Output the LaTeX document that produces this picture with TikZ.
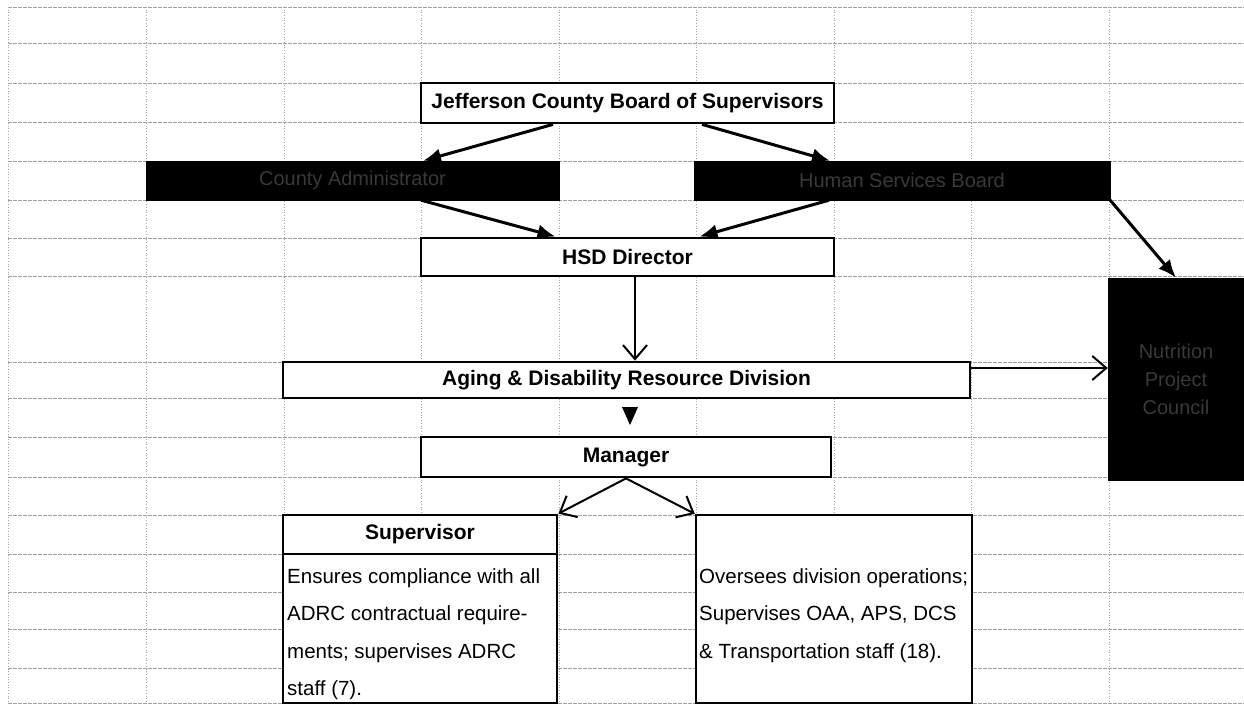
\documentclass[tikz,border=0pt]{standalone}
\usepackage{fontspec}
\setmainfont{Liberation Sans}
\usetikzlibrary{arrows.meta,
                positioning}
\tikzset{org-box/.style =
   {rectangle,
    draw,
    line width=2.8pt,
    fill=white,
    inner sep=0pt,
    font=\fontsize{21}{25}\selectfont\bfseries,
    text centered}}
\tikzset{dark-box/.style =
   {rectangle,
    draw,
    fill=black,
    inner sep=0pt,
    text=gray!45!black,
    font=\fontsize{20}{28}\selectfont,
    align=center}}
\tikzset{cell-line/.style =
   {anchor=base west,
    inner sep=0pt,
    font=\fontsize{20.5}{25}\selectfont}}
\tikzset{arrow/.style = {draw, line width=3pt, -{Latex[length=18pt,width=15pt]}}}
\tikzset{thin-arrow/.style = {draw, line width=2pt, -{Straight Barb[length=14pt,width=24pt]}}}
\tikzset{grid-row/.style = {gray!75, line width=0.7pt, dash pattern=on 4pt off 1pt}}
\tikzset{grid-col/.style = {gray!70, line width=0.7pt, dotted}}

\begin{document}
\begin{tikzpicture}[x=1pt, y=-1pt]
        \useasboundingbox (0,0) rectangle (1244,706);

        % spreadsheet cells
        \foreach \gy in {7,43,83,122,161,200,238,276,362,398,437,477,515,554,592,629,668,703}
            \draw [grid-row] (8,\gy) -- (1244,\gy);
        \foreach \gx in {8,146,284,421,559,696,834,971,1109}
            \draw [grid-col] (\gx,7) -- (\gx,703);

        \node [org-box,
               minimum width=413pt,
               minimum height=40pt] (board) at (627.5,103)
               {Jefferson County Board of Supervisors};

        \node [dark-box,
               minimum width=413pt,
               minimum height=39pt] (admin) at (352.5,180.5)
               {County Administrator};

        \node [dark-box,
               minimum width=416pt,
               minimum height=39pt] (hsb) at (902,180.5)
               {Human Services Board};

        \node [org-box,
               minimum width=413pt,
               minimum height=38pt] (hsd) at (627.5,257)
               {HSD Director};

        \node [org-box,
               minimum width=687pt,
               minimum height=36pt] (adrd) at (626.5,380)
               {Aging \& Disability Resource Division};

        \node [org-box,
               minimum width=410pt,
               minimum height=40pt] (mgr) at (626,457)
               {Manager};

        \node [dark-box,
               minimum width=136pt,
               minimum height=202pt] (nutr) at (1176,379)
               {Nutrition\\Project\\Council};

        % the two staff boxes
        \node [org-box,
               minimum width=274pt,
               minimum height=39pt] (suphead) at (420,534.5)
               {Supervisor};
        \node [org-box,
               line width=2.4pt,
               minimum width=274pt,
               minimum height=149pt] (supbody) at (420,628.5) {};
        \node [org-box,
               line width=2.4pt,
               minimum width=276pt,
               minimum height=188pt] (ops) at (834,609) {};

        \node [cell-line] (sup1) at (287,583) {Ensures compliance with all};
        \node [cell-line] (sup2) at (287,620) {ADRC contractual require-};
        \node [cell-line] (sup3) at (287,658) {ments; supervises ADRC};
        \node [cell-line] (sup4) at (287,695) {staff (7).};

        \node [cell-line] (ops1) at (699,583) {Oversees division operations;};
        \node [cell-line] (ops2) at (699,620) {Supervises OAA, APS, DCS};
        \node [cell-line] (ops3) at (699,658) {\& Transportation staff (18).};

        % reporting lines
        \draw [arrow] ([xshift=-74.5pt]board.south) -- ([xshift=70.5pt]admin.north);
        \draw [arrow] ([xshift=74.5pt]board.south) -- ([xshift=-72pt]hsb.north);
        \draw [arrow] ([xshift=68.5pt]admin.south) -- ([xshift=-72pt]hsd.north);
        \draw [arrow] ([xshift=-73pt]hsb.south) -- ([xshift=72pt]hsd.north);
        \draw [arrow] (hsb.south east) -- (nutr.north);

        \draw [thin-arrow] ([xshift=7.5pt]hsd.south) -- ([xshift=7.5pt]hsd.south |- adrd.north);
        \draw [thin-arrow] ([yshift=12pt]adrd.east) -- ([yshift=12pt]adrd.east -| nutr.west);
        \fill (622,407) -- (638,407) -- (630,425) -- cycle;
        \draw [thin-arrow] (mgr.south) -- (suphead.north east);
        \draw [thin-arrow] (mgr.south) -- (ops.north west);

\end{tikzpicture}
\end{document}
